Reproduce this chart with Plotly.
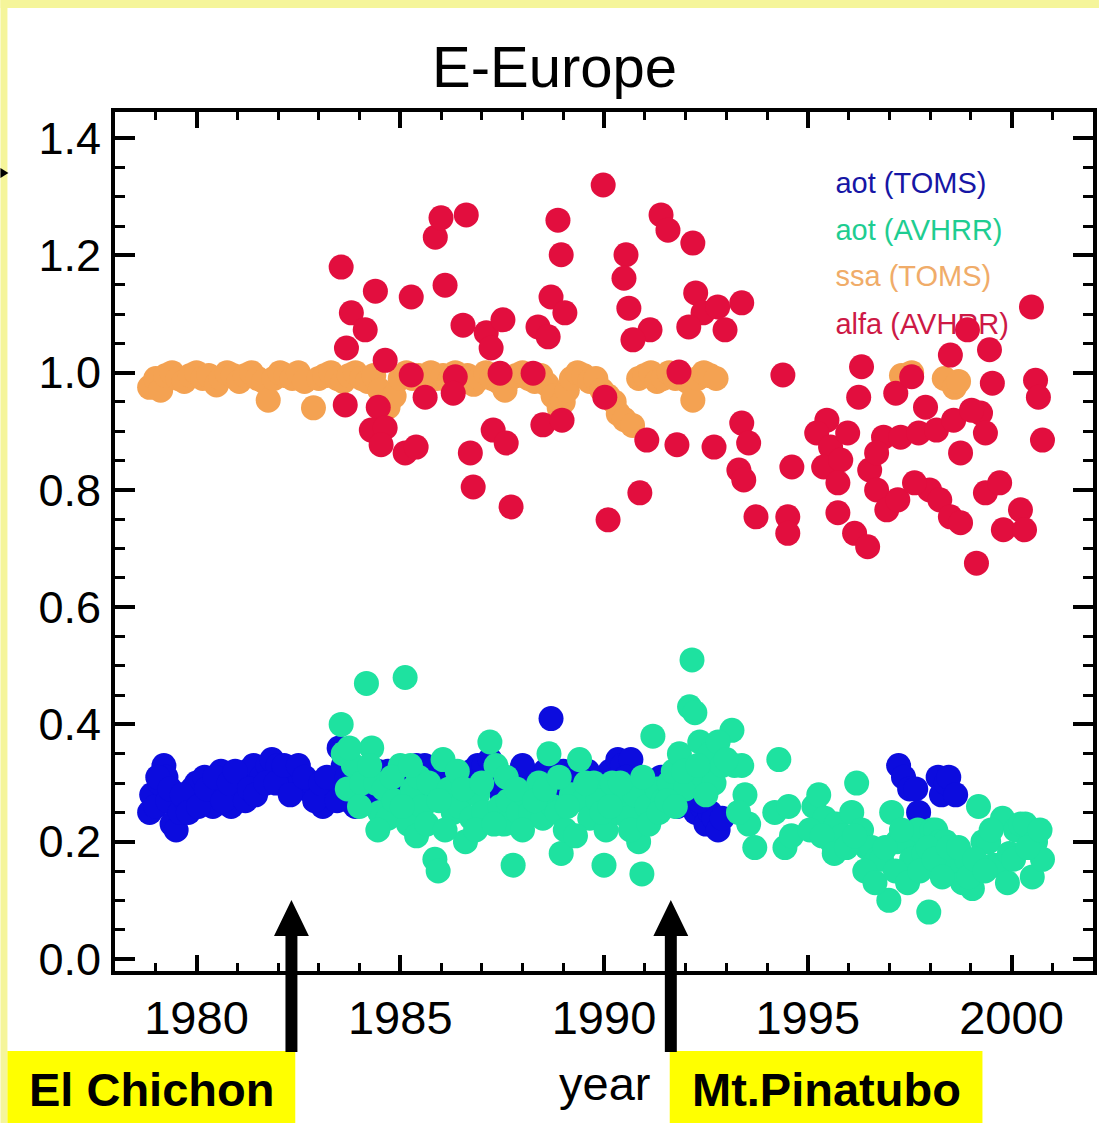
import plotly.graph_objects as go

# ---------------- data ----------------
toms_aot_x = [1978.85, 1978.9, 1979.0, 1979.1, 1979.2, 1979.25, 1979.3, 1979.4, 1979.5, 1979.6,
              1979.75, 1979.9, 1980.0, 1980.1, 1980.2, 1980.3, 1980.4, 1980.5, 1980.6, 1980.7,
              1980.85, 1981.0, 1981.1, 1981.25, 1981.4, 1981.5, 1981.6, 1981.75, 1981.85, 1982.0,
              1982.1, 1982.25, 1982.4, 1982.55, 1982.7, 1982.85, 1983.0, 1983.1, 1983.25, 1983.35,
              1983.5, 1983.6, 1983.75, 1983.9, 1984.05, 1984.2, 1984.35, 1984.5, 1984.65, 1984.8,
              1984.95, 1985.1, 1985.25, 1985.4, 1985.55, 1985.7, 1985.85, 1986.0, 1986.15, 1986.3,
              1986.45, 1986.6, 1986.75, 1986.9, 1987.05, 1987.2, 1987.35, 1987.5, 1987.65, 1987.8,
              1987.95, 1988.1, 1988.25, 1988.4, 1988.55, 1988.7, 1988.8, 1988.95, 1989.1, 1989.25,
              1989.4, 1989.55, 1989.7, 1989.85, 1990.0, 1990.15, 1990.34, 1990.45, 1990.66, 1990.75,
              1990.9, 1991.05, 1991.2, 1991.35, 1991.5, 1991.65, 1991.8, 1991.95, 1992.1, 1992.25,
              1992.4, 1992.5, 1992.6, 1992.7, 1992.8, 1992.9,
              1979.05, 1979.35, 1979.65, 1979.8, 1980.05, 1980.25, 1980.45, 1980.65, 1980.8, 1980.95,
              1981.2, 1981.3, 1981.45, 1981.7, 1981.95, 1982.15, 1982.3, 1982.5, 1982.65, 1982.9,
              1983.05, 1983.2, 1983.45, 1983.7, 1984.0, 1984.25, 1984.45, 1984.7,
              1985.0, 1985.6, 1986.2, 1986.9, 1987.3, 1988.0, 1988.3, 1989.0, 1989.6, 1990.2,
              1990.55, 1991.0, 1991.4, 1991.75, 1992.15, 1992.35,
              1997.23, 1997.35, 1997.5, 1997.65, 1997.72, 1998.2, 1998.28, 1998.4, 1998.46, 1998.63]
toms_aot_y = [0.25, 0.28, 0.26, 0.30, 0.33, 0.31, 0.27, 0.23, 0.22, 0.25,
              0.27, 0.29, 0.30, 0.27, 0.31, 0.28, 0.26, 0.30, 0.32, 0.28,
              0.26, 0.29, 0.31, 0.32, 0.33, 0.30, 0.31, 0.33, 0.34, 0.33,
              0.31, 0.32, 0.30, 0.31, 0.29, 0.30, 0.27, 0.26, 0.28, 0.30,
              0.36, 0.33, 0.27, 0.26, 0.28, 0.30, 0.31, 0.29, 0.27, 0.30,
              0.32, 0.31, 0.30, 0.33, 0.31, 0.28, 0.30, 0.32, 0.29, 0.27,
              0.31, 0.30, 0.32, 0.33, 0.33, 0.34, 0.30, 0.28, 0.30, 0.27,
              0.29, 0.31, 0.30, 0.29, 0.32, 0.41, 0.32, 0.30, 0.28, 0.27,
              0.30, 0.29, 0.27, 0.29, 0.31, 0.32, 0.34, 0.33, 0.34, 0.30,
              0.27, 0.26, 0.28, 0.27, 0.29, 0.27, 0.26, 0.28, 0.27, 0.25,
              0.26, 0.23, 0.25, 0.24, 0.22, 0.24,
              0.31, 0.29, 0.28, 0.25, 0.26, 0.29, 0.31, 0.27, 0.30, 0.32,
              0.27, 0.29, 0.28, 0.30, 0.30, 0.33, 0.28, 0.33, 0.31, 0.27,
              0.30, 0.31, 0.27, 0.31, 0.30, 0.27, 0.32, 0.32,
              0.28, 0.33, 0.32, 0.29, 0.31, 0.33, 0.27, 0.32, 0.32, 0.28,
              0.31, 0.30, 0.31, 0.29, 0.29, 0.27,
              0.33, 0.31, 0.29, 0.29, 0.25, 0.31, 0.28, 0.30, 0.31, 0.28]

avhrr_aot_x = [1983.55, 1983.6, 1983.7, 1983.85, 1984.05, 1984.17, 1984.3, 1984.4, 1984.5, 1984.6,
               1984.7, 1984.85, 1985.0, 1985.12, 1985.2, 1985.3, 1985.45, 1985.55, 1985.7, 1985.85,
               1985.93, 1986.05, 1986.2, 1986.3, 1986.45, 1986.6, 1986.75, 1986.9, 1987.05, 1987.2,
               1987.35, 1987.45, 1987.55, 1987.65, 1987.77, 1987.9, 1988.05, 1988.2, 1988.4, 1988.5,
               1988.65, 1988.75, 1988.85, 1988.95, 1989.05, 1989.2, 1989.4, 1989.5, 1989.65, 1989.75,
               1989.85, 1990.0, 1990.05, 1990.2, 1990.35, 1990.5, 1990.6, 1990.75, 1990.85, 1990.93,
               1991.05, 1991.2, 1991.3, 1991.45, 1991.6, 1991.7, 1991.85, 1992.0, 1992.1, 1992.16,
               1992.23, 1992.35, 1992.45, 1992.6, 1992.7, 1992.9, 1993.14, 1993.2, 1993.38, 1993.46,
               1993.55, 1993.7, 1994.19, 1994.29, 1994.44, 1994.53, 1994.6, 1995.15, 1995.27, 1995.42,
               1995.59, 1995.7, 1995.85, 1996.08, 1996.2, 1996.32, 1996.45, 1996.57, 1996.7, 1996.81,
               1996.99, 1997.06, 1997.2, 1997.4, 1997.55, 1997.7, 1997.85, 1997.97, 1998.05, 1998.14,
               1998.25, 1998.38, 1998.5, 1998.63, 1998.8, 1998.9, 1999.04, 1999.19, 1999.3, 1999.44,
               1999.55, 1999.68, 1999.78, 1999.95, 2000.1, 2000.22, 2000.34, 2000.51, 2000.59, 2000.76,
               1983.75, 1984.0, 1984.25, 1984.45, 1984.8, 1985.05, 1985.25, 1985.4, 1985.65, 1985.95,
               1986.1, 1986.4, 1986.55, 1986.85, 1987.0, 1987.3, 1987.6, 1987.85, 1988.0, 1988.3,
               1988.55, 1988.9, 1989.1, 1989.3, 1989.55, 1989.95, 1990.15, 1990.4, 1990.65, 1990.95,
               1991.1, 1991.35, 1991.55, 1991.75, 1991.95, 1992.3, 1992.5, 1992.8, 1993.0, 1993.3,
               1995.05, 1995.35, 1995.65, 1995.95, 1996.15, 1996.4, 1996.65, 1996.9, 1997.15, 1997.3,
               1997.45, 1997.75, 1997.95, 1998.1, 1998.3, 1998.45, 1998.7, 1998.95, 1999.1, 1999.35,
               1999.5, 1999.9, 2000.05, 2000.4, 2000.7]
avhrr_aot_y = [0.40, 0.35, 0.29, 0.33, 0.30, 0.47, 0.36, 0.30, 0.25, 0.29,
               0.24, 0.27, 0.33, 0.48, 0.23, 0.29, 0.31, 0.26, 0.30, 0.17,
               0.15, 0.34, 0.29, 0.25, 0.26, 0.20, 0.24, 0.28, 0.25, 0.37,
               0.33, 0.26, 0.23, 0.27, 0.16, 0.25, 0.28, 0.25, 0.30, 0.24,
               0.35, 0.26, 0.25, 0.18, 0.22, 0.28, 0.34, 0.27, 0.24, 0.30,
               0.27, 0.16, 0.22, 0.30, 0.25, 0.27, 0.24, 0.28, 0.20, 0.145,
               0.26, 0.38, 0.29, 0.27, 0.30, 0.32, 0.35, 0.29, 0.43, 0.51,
               0.42, 0.37, 0.31, 0.35, 0.30, 0.33, 0.39, 0.33, 0.33, 0.28,
               0.23, 0.19, 0.25, 0.34, 0.19, 0.26, 0.21, 0.26, 0.28, 0.24,
               0.20, 0.23, 0.21, 0.25, 0.30, 0.22, 0.19, 0.19, 0.17, 0.17,
               0.10, 0.25, 0.20, 0.20, 0.17, 0.22, 0.18, 0.08, 0.22, 0.22,
               0.20, 0.20, 0.16, 0.16, 0.13, 0.17, 0.12, 0.26, 0.20, 0.20,
               0.16, 0.16, 0.24, 0.18, 0.22, 0.23, 0.23, 0.14, 0.20, 0.17,
               0.36, 0.26, 0.33, 0.22, 0.31, 0.26, 0.33, 0.21, 0.23, 0.27,
               0.22, 0.32, 0.29, 0.22, 0.30, 0.23, 0.31, 0.29, 0.22, 0.27,
               0.29, 0.31, 0.26, 0.21, 0.30, 0.25, 0.26, 0.30, 0.22, 0.31,
               0.23, 0.25, 0.27, 0.26, 0.32, 0.33, 0.28, 0.37, 0.34, 0.25,
               0.22, 0.21, 0.18, 0.19, 0.21, 0.15, 0.13, 0.19, 0.15, 0.22,
               0.13, 0.15, 0.19, 0.17, 0.14, 0.19, 0.19, 0.14, 0.17, 0.15,
               0.22, 0.13, 0.17, 0.19, 0.22]

toms_ssa_x = [1978.85, 1979.0, 1979.12, 1979.25, 1979.4, 1979.55, 1979.7, 1979.85, 1980.0, 1980.15,
              1980.3, 1980.49, 1980.6, 1980.75, 1980.9, 1981.05, 1981.2, 1981.35, 1981.5, 1981.65,
              1981.76, 1981.9, 1982.05, 1982.2, 1982.35, 1982.5, 1982.65, 1982.87, 1983.0, 1983.15,
              1983.3, 1983.45, 1983.6, 1983.75, 1983.9, 1984.05, 1984.2, 1984.35, 1984.5, 1984.7,
              1984.85, 1985.0, 1985.15, 1985.3, 1985.45, 1985.6, 1985.75, 1985.9, 1986.05, 1986.2,
              1986.35, 1986.5, 1986.65, 1986.8, 1986.95, 1987.1, 1987.25, 1987.4, 1987.57, 1987.7,
              1987.85, 1988.0, 1988.15, 1988.3, 1988.45, 1988.6, 1988.75, 1988.9, 1989.0, 1989.1,
              1989.2, 1989.35, 1989.5, 1989.65, 1989.8, 1989.95, 1990.1, 1990.25, 1990.35, 1990.5,
              1990.7, 1990.85, 1991.0, 1991.15, 1991.3, 1991.45, 1991.6, 1991.75, 1991.9, 1992.05,
              1992.18, 1992.3, 1992.45, 1992.6, 1992.75,
              1997.3, 1997.55, 1998.35, 1998.6, 1998.7]
toms_ssa_y = [0.975, 0.99, 0.97, 0.995, 1.0, 0.99, 0.985, 0.995, 1.0, 0.99,
              0.995, 0.979, 0.99, 1.0, 0.995, 0.985, 0.995, 1.0, 0.99, 0.985,
              0.953, 0.99, 1.0, 0.995, 0.99, 1.0, 0.985, 0.94, 0.99, 0.995,
              1.0, 0.99, 0.985, 0.995, 1.0, 0.99, 0.985, 0.995, 0.97, 0.941,
              0.96, 0.99, 1.0, 0.99, 0.995, 0.985, 1.0, 0.99, 0.995, 0.985,
              1.0, 0.99, 0.995, 0.98, 0.99, 1.0, 0.99, 0.985, 0.97, 0.99,
              0.995, 1.0, 0.99, 0.985, 0.995, 0.98, 0.96, 0.94, 0.95, 0.97,
              0.99, 1.0, 0.995, 0.985, 0.99, 0.97, 0.96, 0.95, 0.93, 0.92,
              0.91, 0.99, 0.995, 1.0, 0.985, 0.99, 1.0, 0.99, 0.995, 0.985,
              0.953, 0.99, 1.0, 0.995, 0.99,
              0.995, 1.0, 0.99, 0.975, 0.985]

avhrr_alfa_x = [1983.55, 1984.39, 1985.27, 1986.10, 1985.86, 1986.00, 1986.62, 1988.87, 1988.95, 1983.80,
                1984.14, 1983.68, 1984.63, 1986.54, 1987.11, 1987.52, 1987.23, 1988.38, 1988.63, 1988.70,
                1989.04, 1985.27, 1985.61, 1986.35, 1986.30, 1987.45, 1988.26, 1983.65, 1984.46, 1984.29,
                1984.63, 1985.12, 1985.39, 1986.72, 1986.79, 1987.28, 1987.60, 1987.72, 1988.50, 1984.53,
                1989.98, 1991.40, 1991.57, 1992.18, 1990.54, 1990.49, 1990.61, 1991.13, 1990.71, 1992.25,
                1992.43, 1992.97, 1993.38, 1992.79, 1992.08, 1991.84, 1990.02, 1988.97, 1991.05, 1991.79,
                1992.70, 1993.38, 1993.55, 1993.31, 1993.43, 1990.88, 1990.10, 1993.73, 1994.61, 1994.39,
                1994.51, 1994.51, 1996.32, 1996.25, 1995.47, 1995.22, 1995.56, 1995.39, 1995.81, 1995.98,
                1996.52, 1995.74, 1995.74, 1996.15, 1996.47, 1996.69, 1996.94, 1997.21, 1997.16, 1997.55,
                1997.89, 1996.86, 1997.28, 1997.72, 1998.16, 1998.58, 1998.50, 1998.92, 1999.46, 1999.53,
                1999.24, 1999.36, 1997.99, 1997.62, 1998.24, 1998.50, 1998.75, 1999.14, 1999.36, 1999.71,
                1999.80, 2000.22, 2000.32, 2000.49, 2000.59, 2000.66, 2000.76, 1996.69, 1998.75, 1999.02]
avhrr_alfa_y = [1.180, 1.139, 1.129, 1.149, 1.231, 1.264, 1.269, 1.260, 1.201, 1.102,
                1.073, 1.042, 1.021, 1.081, 1.068, 1.090, 1.042, 1.078, 1.061, 1.129,
                1.102, 0.996, 0.958, 0.993, 0.965, 0.999, 0.999, 0.945, 0.941, 0.902,
                0.906, 0.863, 0.873, 0.863, 0.805, 0.902, 0.880, 0.771, 0.911, 0.877,
                1.320, 1.269, 1.243, 1.221, 1.201, 1.161, 1.110, 1.073, 1.056, 1.136,
                1.102, 1.073, 1.119, 1.112, 1.078, 1.001, 0.958, 0.919, 0.885, 0.877,
                0.873, 0.914, 0.880, 0.834, 0.817, 0.795, 0.749, 0.754, 0.839, 0.996,
                0.754, 0.726, 1.010, 0.958, 0.919, 0.897, 0.873, 0.839, 0.851, 0.897,
                0.834, 0.812, 0.761, 0.726, 0.703, 0.800, 0.766, 0.783, 0.965, 0.993,
                0.941, 0.890, 0.890, 0.897, 0.902, 0.919, 1.030, 1.073, 1.039, 0.982,
                0.931, 0.897, 0.800, 0.812, 0.783, 0.754, 0.744, 0.675, 0.795, 0.812,
                0.732, 0.766, 0.732, 1.112, 0.987, 0.958, 0.885, 0.863, 0.863, 0.936]

legend_labels = ["aot (TOMS)", "aot (AVHRR)", "ssa (TOMS)", "alfa (AVHRR)"]
volcano_names = ["El Chichon", "Mt.Pinatubo"]
volcano_years = [1982.33, 1991.64]
y_ticks = [0.0, 0.2, 0.4, 0.6, 0.8, 1.0, 1.2, 1.4]
x_ticks = [1980, 1985, 1990, 1995, 2000]

# ---------------- styles ----------------
C_BLUE = "rgb(12,12,222)"
C_GREEN = "rgb(30,226,160)"
C_ORANGE = "rgb(244,162,82)"
C_RED = "rgb(226,14,62)"
TXT_COLORS = ["rgb(22,22,165)", "rgb(30,205,145)", "rgb(240,172,105)", "rgb(205,25,70)"]
MS = 25
FONT = "Liberation Sans, Arial, Helvetica, sans-serif"

W, H = 1103, 1123
ML, MR, MT, MB = 115, 6, 112, 152
PW, PH = W - ML - MR, H - MT - MB
X0, X1 = 1978.0, 2002.0
Y0, Y1 = -0.0205, 1.4445


def px_x(px):
    return (px - ML) / PW


def px_y(py):
    return (H - MB - py) / PH


def xpx_to_year(dpx):
    return dpx * (X1 - X0) / PW


fig = go.Figure()

# legend text (drawn beneath the data markers like the original)
leg_x = 1995.68
leg_y = [1.318, 1.238, 1.160, 1.079]
fig.add_trace(go.Scatter(x=[leg_x] * 4, y=leg_y, mode="text", text=legend_labels,
                         textposition="middle right",
                         textfont=dict(size=29, color=TXT_COLORS, family=FONT),
                         showlegend=False, hoverinfo="skip", cliponaxis=False))

for xs, ys, col in [(toms_aot_x, toms_aot_y, C_BLUE),
                    (avhrr_aot_x, avhrr_aot_y, C_GREEN),
                    (toms_ssa_x, toms_ssa_y, C_ORANGE),
                    (avhrr_alfa_x, avhrr_alfa_y, C_RED)]:
    fig.add_trace(go.Scatter(x=xs, y=ys, mode="markers",
                             marker=dict(size=MS, color=col, line=dict(width=0)),
                             showlegend=False))

shapes = []
# light yellow frame strips (left and top)
shapes.append(dict(type="rect", xref="paper", yref="paper", x0=px_x(0), x1=px_x(7), y0=px_y(H), y1=px_y(0),
                   fillcolor="rgb(245,245,154)", line=dict(width=0), layer="below"))
shapes.append(dict(type="rect", xref="paper", yref="paper", x0=px_x(0), x1=px_x(W), y0=px_y(8), y1=px_y(0),
                   fillcolor="rgb(245,245,154)", line=dict(width=0), layer="below"))
# tiny arrow tip on the left edge
shapes.append(dict(type="path", xref="paper", yref="paper",
                   path=f"M {px_x(0)} {px_y(168)} L {px_x(8)} {px_y(173)} L {px_x(0)} {px_y(178)} Z",
                   fillcolor="black", line=dict(width=0)))

# yellow label boxes
boxes = [(7, 296), (672, 986)]
for (bx0, bx1) in boxes:
    shapes.append(dict(type="rect", xref="paper", yref="paper", x0=px_x(bx0), x1=px_x(bx1),
                       y0=px_y(H), y1=px_y(1051), fillcolor="rgb(255,255,0)", line=dict(width=0)))

# volcano arrows
head_hw = xpx_to_year(17.5)
shaft_hw = xpx_to_year(6)
for vx in volcano_years:
    p = (f"M {vx} {px_y(900)} L {vx + head_hw} {px_y(936)} L {vx + shaft_hw} {px_y(936)} "
         f"L {vx + shaft_hw} {px_y(1052)} L {vx - shaft_hw} {px_y(1052)} L {vx - shaft_hw} {px_y(936)} "
         f"L {vx - head_hw} {px_y(936)} Z")
    shapes.append(dict(type="path", xref="x", yref="paper", path=p, fillcolor="black", line=dict(width=0)))

annotations = [
    dict(text="E-Europe", xref="paper", yref="paper", x=px_x(556), y=px_y(66), xanchor="center",
         yanchor="middle", showarrow=False, font=dict(size=58, color="black", family=FONT)),
    dict(text="year", xref="paper", yref="paper", x=px_x(607), y=px_y(1083), xanchor="center",
         yanchor="middle", showarrow=False, font=dict(size=47, color="black", family=FONT)),
    dict(text="<b>" + volcano_names[0] + "</b>", xref="paper", yref="paper", x=px_x(152), y=px_y(1089),
         xanchor="center", yanchor="middle", showarrow=False, font=dict(size=47, color="black", family=FONT)),
    dict(text="<b>" + volcano_names[1] + "</b>", xref="paper", yref="paper", x=px_x(829), y=px_y(1089),
         xanchor="center", yanchor="middle", showarrow=False, font=dict(size=47, color="black", family=FONT)),
]

fig.update_layout(
    width=W, height=H, margin=dict(l=ML, r=MR, t=MT, b=MB, pad=0),
    paper_bgcolor="white", plot_bgcolor="white",
    shapes=shapes, annotations=annotations, showlegend=False,
    font=dict(family=FONT, color="black"),
    xaxis=dict(range=[X0, X1], tickvals=x_ticks, ticktext=[str(v) for v in x_ticks],
               ticks="inside", ticklen=16, tickwidth=3.5, tickcolor="black",
               showline=True, linewidth=4, linecolor="black", mirror="ticks",
               showgrid=False, zeroline=False, tickfont=dict(size=47, family=FONT),
               minor=dict(dtick=1, tick0=1980, ticks="inside", ticklen=8, tickwidth=3, tickcolor="black"),
               ticklabelstandoff=3),
    yaxis=dict(range=[Y0, Y1], tickvals=y_ticks, ticktext=[f"{v:.1f}" for v in y_ticks],
               ticks="inside", ticklen=20, tickwidth=3.5, tickcolor="black",
               showline=True, linewidth=4, linecolor="black", mirror="ticks",
               showgrid=False, zeroline=False, tickfont=dict(size=45, family=FONT),
               minor=dict(dtick=0.05, tick0=0, ticks="inside", ticklen=10, tickwidth=3, tickcolor="black"),
               ticklabelstandoff=1),
)

fig.write_html("out.html", config={"displayModeBar": False},
               post_script="document.body.style.margin='0';document.body.style.overflow='hidden';")
